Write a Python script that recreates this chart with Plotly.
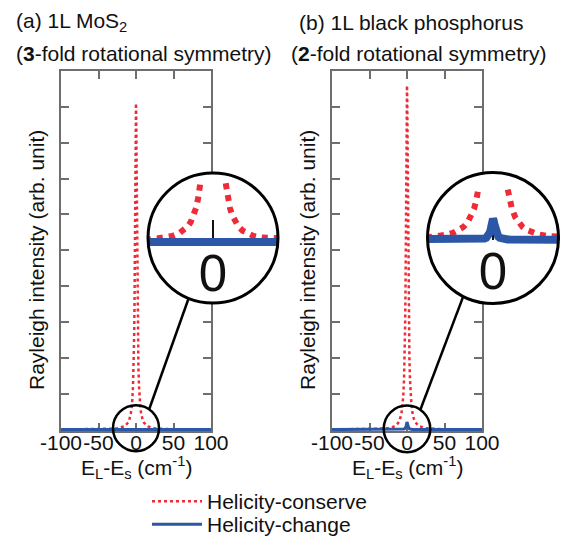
import math
import plotly.graph_objects as go

# ---------------- data ----------------
shift = [-100, -60, -40, -30, -26, -22, -19, -16, -14, -12, -10.5, -9, -8, -7, -6, -5.5, -5, -4, -3.2, -2.5,
         -2, -1.5, -1, -0.6, -0.3, 0,
         0.3, 0.6, 1, 1.5, 2, 2.5, 3.2, 4, 5, 5.5, 6, 7, 8, 9, 10.5, 12, 14, 16, 19, 22, 26, 30, 40, 60, 100]

conserve_a = [0.002, 0.006, 0.014, 0.025, 0.033, 0.046, 0.061, 0.086, 0.112, 0.152, 0.198, 0.267, 0.336, 0.433,
              0.58, 0.68, 0.81, 1.21, 1.76, 2.56, 3.46, 4.74, 6.46, 7.94, 8.78, 9.10,
              8.78, 7.94, 6.46, 4.74, 3.46, 2.56, 1.76, 1.21, 0.81, 0.68, 0.58, 0.433, 0.336, 0.267, 0.198,
              0.152, 0.112, 0.086, 0.061, 0.046, 0.033, 0.025, 0.014, 0.006, 0.002]

change_a = [0.0, 0.0, 0.0, 0.0, 0.0, 0.0, 0.0, 0.0, 0.0, 0.0, 0.0, 0.0, 0.0, 0.0, 0.0, 0.0, 0.0, 0.0, 0.0, 0.0,
            0.0, 0.0, 0.0, 0.0, 0.0, 0.0,
            0.0, 0.0, 0.0, 0.0, 0.0, 0.0, 0.0, 0.0, 0.0, 0.0, 0.0, 0.0, 0.0, 0.0, 0.0, 0.0, 0.0, 0.0, 0.0,
            0.0, 0.0, 0.0, 0.0, 0.0, 0.0]

conserve_b = [0.003, 0.007, 0.016, 0.029, 0.038, 0.053, 0.071, 0.100, 0.130, 0.177, 0.229, 0.309, 0.388, 0.501,
              0.669, 0.786, 0.935, 1.385, 2.00, 2.89, 3.87, 5.23, 7.00, 8.46, 9.28, 9.60,
              9.28, 8.46, 7.00, 5.23, 3.87, 2.89, 2.00, 1.385, 0.935, 0.786, 0.669, 0.501, 0.388, 0.309, 0.229,
              0.177, 0.130, 0.100, 0.071, 0.053, 0.038, 0.029, 0.016, 0.007, 0.003]

change_b = [0.000, 0.000, 0.000, 0.000, 0.000, 0.001, 0.001, 0.001, 0.001, 0.002, 0.002, 0.003, 0.004, 0.005,
            0.007, 0.008, 0.010, 0.015, 0.022, 0.034, 0.049, 0.073, 0.115, 0.162, 0.195, 0.210,
            0.195, 0.162, 0.115, 0.073, 0.049, 0.034, 0.022, 0.015, 0.010, 0.008, 0.007, 0.005, 0.004, 0.003,
            0.002, 0.002, 0.001, 0.001, 0.001, 0.001, 0.000, 0.000, 0.000, 0.000, 0.000]

x_ticks = [-100, -50, 0, 50, 100]
x_tick_text = ["-100", "-50", "0", "50", "100"]
y_ticks = [1, 2, 3, 4, 5, 6, 7, 8, 9]
series_names = ["Helicity-conserve", "Helicity-change"]
panel_titles = ["(a) 1L MoS<sub>2</sub>", "(b) 1L black phosphorus"]
panel_subtitles = ["(<b>3</b>-fold rotational symmetry)", "(<b>2</b>-fold rotational symmetry)"]
x_title = "E<sub>L</sub>-E<sub>s</sub> (cm<sup>-1</sup>)"
y_title = "Rayleigh intensity (arb. unit)"

# ---------------- layout geometry (pixels) ----------------
W, H = 566, 538
FONT = "Liberation Sans, Arial, sans-serif"
FS = 21
RED = "#ee2b36"
BLUE = "#2c56a6"
FRAME = "#6e6e6e"
X_RANGE = [-100, 100]
Y_RANGE = [-0.04, 10]
FRAME_TOP, FRAME_BOT = 71, 431
panels = [
    dict(left=61, right=211, big=(213, 238, 65), small_r=23, small_yc=0.04, th_s=55, th_b=112,
         title_x=14, sub_x=14),
    dict(left=332, right=482, big=(493, 238, 65.5), small_r=23.3, small_yc=0.02, th_s=55, th_b=117,
         title_x=297, sub_x=289),
]
datasets = [(conserve_a, change_a), (conserve_b, change_b)]
legend_ids = ["legend", "legend2"]


def px(x):
    return x / W


def py(y):
    return 1 - y / H


fig = go.Figure()
shapes = []
annotations = []
pxy = (FRAME_BOT - FRAME_TOP) / (Y_RANGE[1] - Y_RANGE[0])

for i, (p, (cons, chg)) in enumerate(zip(panels, datasets)):
    n = 2 * i + 1          # main axes index
    k = 2 * i + 2          # inset axes index
    xa = "x" if n == 1 else f"x{n}"
    ya = "y" if n == 1 else f"y{n}"
    xi, yi = f"x{k}", f"y{k}"
    pxx = (p["right"] - p["left"]) / (X_RANGE[1] - X_RANGE[0])

    # main traces
    fig.add_trace(go.Scatter(x=shift, y=cons, xaxis=xa, yaxis=ya, mode="lines", name=series_names[0],
                             line=dict(color=RED, width=2.5, dash="dot"), showlegend=(i == 0),
                             legend=legend_ids[0]))
    fig.add_trace(go.Scatter(x=shift, y=chg, xaxis=xa, yaxis=ya, mode="lines", name=series_names[1],
                             line=dict(color=BLUE, width=3), showlegend=(i == 0),
                             legend=legend_ids[1]))

    axis_common = dict(showgrid=False, zeroline=False, showline=True, linecolor=FRAME, linewidth=1.5,
                       mirror="ticks", ticks="inside", ticklen=8, tickwidth=1.5, tickcolor=FRAME,
                       layer="below traces", fixedrange=True, automargin=False)
    fig.update_layout(**{
        ("xaxis" if n == 1 else f"xaxis{n}"): dict(
            axis_common, domain=[px(p["left"]), px(p["right"])], range=X_RANGE, tickvals=x_ticks,
            ticktext=x_tick_text, tickangle=0, anchor=ya, ticklabelstandoff=-8,
            tickfont=dict(size=FS, color="#111", family=FONT)),
        ("yaxis" if n == 1 else f"yaxis{n}"): dict(
            axis_common, domain=[py(FRAME_BOT), py(FRAME_TOP)], range=Y_RANGE, tickvals=y_ticks,
            showticklabels=False, anchor=xa),
    })

    # inset (magnified view of the small circle)
    CX, CY, R = p["big"]
    r = p["small_r"]
    yc = p["small_yc"]
    m = R / r
    pad = 3
    x_half = r / pxx
    y_half = (R + pad) / (m * pxy)

    def mask(xs, ys):
        out = []
        for xv, yv in zip(xs, ys):
            dx = xv * pxx * m
            dy = (yv - yc) * pxy * m
            if abs(dx) < R and dx * dx + dy * dy > (R - 1) ** 2:
                out.append(None)
            else:
                out.append(yv)
        return out

    fig.add_trace(go.Scatter(x=shift, y=mask(shift, cons), xaxis=xi, yaxis=yi, mode="lines",
                             line=dict(color=RED, width=6, dash="dot"), showlegend=False, connectgaps=False))
    fig.add_trace(go.Scatter(x=shift, y=mask(shift, chg), xaxis=xi, yaxis=yi, mode="lines",
                             line=dict(color=BLUE, width=8), showlegend=False, connectgaps=False))

    zero_px = CY + (yc - 0) * pxy * m
    fig.update_layout(**{
        f"xaxis{k}": dict(domain=[px(CX - R), px(CX + R)], range=[-x_half, x_half], anchor="free",
                          position=py(zero_px), showgrid=False, zeroline=False, showline=False,
                          tickvals=[0], ticks="inside", ticklen=22, tickwidth=2, tickcolor="#111",
                          tickfont=dict(size=51, color="#111", family=FONT), layer="below traces",
                          ticklabelstandoff=-3, fixedrange=True, automargin=False),
        f"yaxis{k}": dict(domain=[py(CY + R + pad), py(CY - R - pad)], range=[yc - y_half, yc + y_half],
                          anchor=xi, visible=False, fixedrange=True, automargin=False),
    })

    # white disc of the inset (inside the inset subplot, below its traces)
    shapes.append(dict(type="circle", xref=xi, yref=yi, layer="below",
                       x0=-x_half, x1=x_half, y0=yc - r / pxy, y1=yc + r / pxy,
                       fillcolor="white", line=dict(width=0)))
    # big circle outline
    shapes.append(dict(type="circle", xref="paper", yref="paper", layer="above",
                       x0=px(CX - R), x1=px(CX + R), y0=py(CY + R), y1=py(CY - R),
                       line=dict(color="black", width=3)))
    # small circle around the peak base
    scx = p["left"] + (0 - X_RANGE[0]) * pxx
    scy = FRAME_BOT - (yc - Y_RANGE[0]) * pxy
    shapes.append(dict(type="circle", xref="paper", yref="paper", layer="above",
                       x0=px(scx - r), x1=px(scx + r), y0=py(scy + r), y1=py(scy - r),
                       line=dict(color="black", width=2.5)))
    # connector
    ts, tb = math.radians(p["th_s"]), math.radians(p["th_b"])
    x0 = scx + r * math.cos(ts)
    y0 = scy - r * math.sin(ts)
    x1 = CX + R * math.cos(tb)
    y1 = CY + R * math.sin(tb)
    shapes.append(dict(type="line", xref="paper", yref="paper", layer="above",
                       x0=px(x0), y0=py(y0), x1=px(x1), y1=py(y1), line=dict(color="black", width=2.5)))

    # texts
    annotations.append(dict(text=panel_titles[i], x=px(p["title_x"]), y=py(22), xref="paper", yref="paper",
                            xanchor="left", yanchor="middle", showarrow=False,
                            font=dict(size=FS, color="#111", family=FONT)))
    annotations.append(dict(text=panel_subtitles[i], x=px(p["sub_x"]), y=py(54), xref="paper", yref="paper",
                            xanchor="left", yanchor="middle", showarrow=False,
                            font=dict(size=FS, color="#111", family=FONT)))
    annotations.append(dict(text=x_title, x=px((p["left"] + p["right"]) / 2), y=py(467), xref="paper",
                            yref="paper", xanchor="center", yanchor="middle", showarrow=False,
                            font=dict(size=FS, color="#111", family=FONT)))
    annotations.append(dict(text=y_title, x=px(p["left"] - 25), y=py(260),
                            xref="paper", yref="paper", xanchor="center", yanchor="middle",
                            textangle=-90, showarrow=False, font=dict(size=FS, color="#111", family=FONT)))

legend_common = dict(x=px(147), xanchor="left", yanchor="top", bgcolor="rgba(0,0,0,0)",
                     xref="container", yref="container", itemwidth=50,
                     font=dict(size=FS, color="#111", family=FONT), tracegroupgap=0)
fig.update_layout(
    width=W, height=H, margin=dict(l=0, r=0, t=0, b=0, autoexpand=False),
    paper_bgcolor="white", plot_bgcolor="rgba(0,0,0,0)",
    font=dict(family=FONT, size=17, color="#111"),
    shapes=shapes, annotations=annotations,
    legend=dict(legend_common, y=py(481)),
    legend2=dict(legend_common, y=py(504)),
)

fig.write_html("out.html")
